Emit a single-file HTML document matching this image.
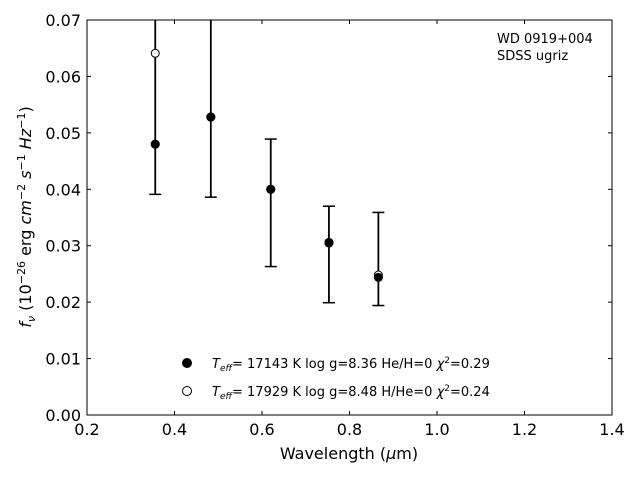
<!DOCTYPE html>
<html><head><meta charset="utf-8"><style>
body{margin:0;background:#fff;}
svg{font-family:"DejaVu Sans","Liberation Sans",sans-serif;}
</style></head><body>
<svg id="chart" width="640" height="480" viewBox="0 0 640 480">
<defs><clipPath id="clip"><rect x="87" y="20" width="525" height="395"/></clipPath></defs>
<g id="axes"></g>
<g id="marks" clip-path="url(#clip)"></g>
<rect x="87" y="20" width="525" height="395" fill="none" stroke="#000" stroke-width="1"/>
<text x="497" y="43" font-size="13">WD 0919+004</text>
<text x="497" y="60" font-size="13">SDSS ugriz</text>
<text x="349" y="459" font-size="16" text-anchor="middle">Wavelength (<tspan font-style="italic">μ</tspan>m)</text>
<text transform="translate(31,217) rotate(-90)" font-size="16" text-anchor="middle"><tspan font-style="italic">f</tspan><tspan font-style="italic" font-size="11" dy="4">ν</tspan><tspan dy="-4"> (10</tspan><tspan font-size="11" dy="-6">−26</tspan><tspan dy="6"> erg </tspan><tspan font-style="italic">cm</tspan><tspan font-size="11" dy="-6">−2</tspan><tspan dy="6" font-style="italic"> s</tspan><tspan font-size="11" dy="-6">−1</tspan><tspan dy="6" font-style="italic"> Hz</tspan><tspan font-size="11" dy="-6">−1</tspan><tspan dy="6">)</tspan></text>
<g>
<circle cx="187" cy="363" r="4.5" fill="#000" stroke="#000"/>
<text x="212" y="368" font-size="13"><tspan font-style="italic">T</tspan><tspan font-style="italic" font-size="9" dy="3">eff</tspan><tspan dy="-3">= 17143 K  log g=8.36  He/H=0  </tspan><tspan font-style="italic">χ</tspan><tspan font-size="9" dy="-5">2</tspan><tspan dy="5">=0.29</tspan></text>
<circle cx="187" cy="391" r="4.5" fill="#fff" stroke="#000"/>
<text x="212" y="396" font-size="13"><tspan font-style="italic">T</tspan><tspan font-style="italic" font-size="9" dy="3">eff</tspan><tspan dy="-3">= 17929 K  log g=8.48  H/He=0  </tspan><tspan font-style="italic">χ</tspan><tspan font-size="9" dy="-5">2</tspan><tspan dy="5">=0.24</tspan></text>
</g>
</svg>
<script>
const wavelengths=[0.356,0.483,0.620,0.753,0.866];
const fluxObs=[0.0480,0.0528,0.0400,0.0305,0.0244];
const errLow=[0.0391,0.0386,0.0263,0.0199,0.0194];
const errHigh=[0.0760,0.0760,0.0489,0.0370,0.0359];
const modelHe=[0.0480,0.0528,0.0400,0.0305,0.0244];
const modelH=[0.0641,0.0528,0.0400,0.0306,0.0248];
const xTicks=[0.2,0.4,0.6,0.8,1.0,1.2,1.4];
const yTicks=[0.00,0.01,0.02,0.03,0.04,0.05,0.06,0.07];
const X0=87,X1=612,Y0=415,Y1=20;
const xs=v=>X0+(v-0.2)/(1.2)*(X1-X0);
const ys=v=>Y0-v/0.07*(Y0-Y1);
const NS='http://www.w3.org/2000/svg';
const axes=document.getElementById('axes'),marks=document.getElementById('marks');
function mk(tag,attrs,parent){const e=document.createElementNS(NS,tag);for(const k in attrs)e.setAttribute(k,attrs[k]);parent.appendChild(e);return e;}
xTicks.forEach(t=>{const x=xs(t);
const a=mk('line',{x1:x,x2:x,y1:Y0,y2:Y0-4,stroke:'#000'},axes);


const b=mk('line',{x1:x,x2:x,y1:Y1,y2:Y1+4,stroke:'#000'},axes);


const l=mk('text',{x:x,y:Y0+20,'font-size':16,'text-anchor':'middle'},axes);l.textContent=t.toFixed(1);

});
yTicks.forEach(t=>{const y=ys(t);
const a=mk('line',{x1:X0,x2:X0+4,y1:y,y2:y,stroke:'#000'},axes);


const b=mk('line',{x1:X1,x2:X1-4,y1:y,y2:y,stroke:'#000'},axes);


const l=mk('text',{x:X0-6,y:y+6,'font-size':16,'text-anchor':'end'},axes);l.textContent=t.toFixed(2);

});
wavelengths.forEach((w,i)=>{const x=xs(w);
const g=mk('g',{},marks);


mk('line',{x1:x,x2:x,y1:ys(errLow[i]),y2:ys(errHigh[i]),stroke:'#000','stroke-width':1.8},g);
mk('line',{x1:x-6,x2:x+6,y1:ys(errLow[i]),y2:ys(errLow[i]),stroke:'#000','stroke-width':1.5},g);
mk('line',{x1:x-6,x2:x+6,y1:ys(errHigh[i]),y2:ys(errHigh[i]),stroke:'#000','stroke-width':1.5},g);
const o=mk('circle',{cx:x,cy:ys(fluxObs[i]),r:4.5,fill:'#000'},marks);


const h=mk('circle',{cx:x,cy:ys(modelH[i]),r:4,fill:'#fff',stroke:'#000'},marks);


const he=mk('circle',{cx:x,cy:ys(modelHe[i]),r:4,fill:'#000',stroke:'#000'},marks);

});
</script>
</body></html>
